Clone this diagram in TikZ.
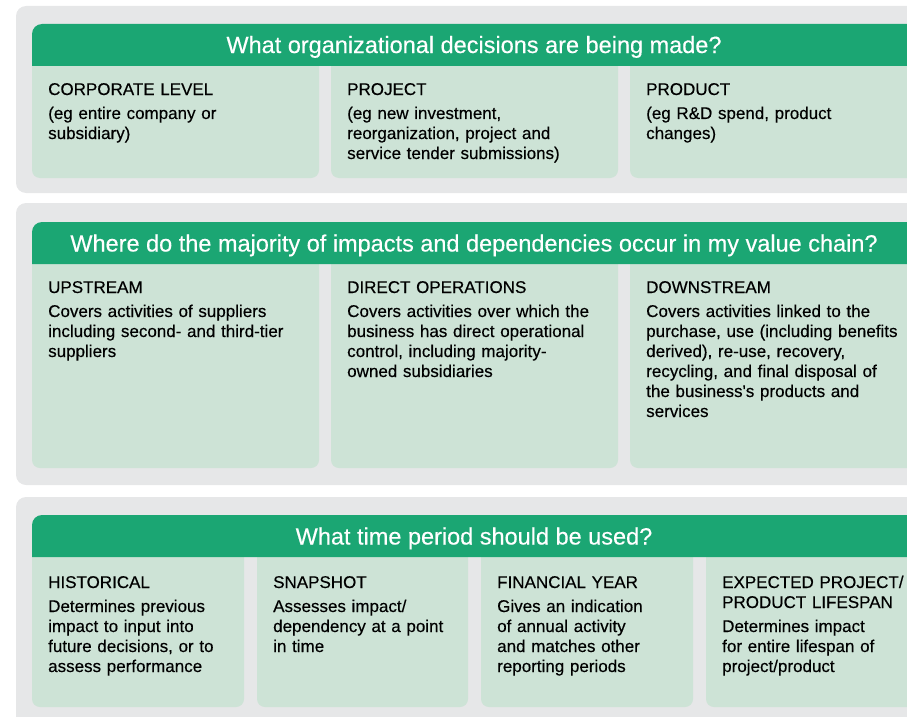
\documentclass[tikz,border=0pt]{standalone}
\usepackage{fontspec}
\setmainfont{Liberation Sans}[FakeBold=0.35,Ligatures=TeXOff]
\definecolor{panelgray}{RGB}{230,231,232}
\definecolor{headgreen}{RGB}{27,166,115}
\definecolor{cellgreen}{RGB}{205,227,214}

\begin{document}
\begin{tikzpicture}[x=1pt,y=-1pt,
        panel/.style={fill=panelgray,rounded corners=10pt},
        cell/.style={fill=cellgreen,rounded corners=8pt},
        question/.style={anchor=base,text=white,inner sep=0pt,font=\fontsize{23.5}{26}\selectfont},
        celltext/.style={anchor=base west,inner sep=0pt,text width=270pt,align=left,font=\fontsize{17}{20}\selectfont}]
            \useasboundingbox (0,0) rectangle (907,717);

            \fill[panel] (16,6) rectangle (940,193);
            \fill[panel] (16,203) rectangle (940,485);
            \fill[panel] (16,497) rectangle (940,740);

            \fill[cell] (32,40) rectangle (319,178);
            \fill[cell] (331,40) rectangle (618,178);
            \fill[cell] (630,40) rectangle (940,178);

            \fill[cell] (32,240) rectangle (319,468);
            \fill[cell] (331,240) rectangle (618,468);
            \fill[cell] (630,240) rectangle (940,468);

            \fill[cell] (32,530) rectangle (244,707);
            \fill[cell] (257,530) rectangle (468,707);
            \fill[cell] (481,530) rectangle (693,707);
            \fill[cell] (706,530) rectangle (940,707);

            \fill[headgreen] (32,66) [rounded corners=10pt]-- (32,24) [sharp corners]-- (940,24) -- (940,66) -- cycle;
            \fill[headgreen] (32,264) [rounded corners=10pt]-- (32,222) [sharp corners]-- (940,222) -- (940,264) -- cycle;
            \fill[headgreen] (32,557) [rounded corners=10pt]-- (32,515) [sharp corners]-- (940,515) -- (940,557) -- cycle;

            \node[question] (decisions) at (474,53) {What organizational decisions are being made?};
            \node[question] (valuechain) at (474,251.5) {Where do the majority of impacts and dependencies occur in my value chain?};
            \node[question] (period) at (474,544.5) {What time period should be used?};

            \node[celltext] (corporate) at (48,95) {CORPORATE LEVEL\\[4pt](eg entire company or\\subsidiary)};
            \node[celltext] (project) at (347,95) {PROJECT\\[4pt](eg new investment,\\reorganization, project and\\service tender submissions)};
            \node[celltext] (product) at (646,95) {PRODUCT\\[4pt](eg R\&D spend, product\\changes)};

            \node[celltext] (upstream) at (48,293) {UPSTREAM\\[4pt]Covers activities of suppliers\\including second- and third-tier\\suppliers};
            \node[celltext] (direct) at (347,293) {DIRECT OPERATIONS\\[4pt]Covers activities over which the\\business has direct operational\\control, including majority-\\owned subsidiaries};
            \node[celltext] (downstream) at (646,293) {DOWNSTREAM\\[4pt]Covers activities linked to the\\purchase, use (including benefits\\derived), re-use, recovery,\\recycling, and final disposal of\\the business's products and\\services};

            \node[celltext] (historical) at (48,588) {HISTORICAL\\[4pt]Determines previous\\impact to input into\\future decisions, or to\\assess performance};
            \node[celltext] (snapshot) at (273,588) {SNAPSHOT\\[4pt]Assesses impact/\\dependency at a point\\in time};
            \node[celltext] (financial) at (497,588) {FINANCIAL YEAR\\[4pt]Gives an indication\\of annual activity\\and matches other\\reporting periods};
            \node[celltext] (lifespan) at (722,588) {EXPECTED PROJECT/\\PRODUCT LIFESPAN\\[4pt]Determines impact\\for entire lifespan of\\project/product};
        \end{tikzpicture}
\end{document}
